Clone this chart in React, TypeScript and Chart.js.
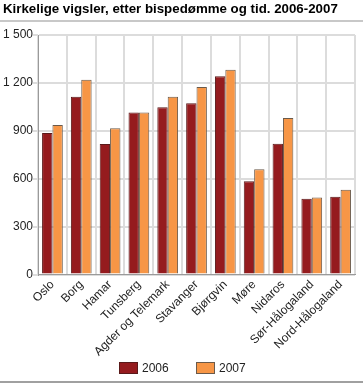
import React, { useEffect, useRef } from "react";
import { Chart, registerables } from "chart.js";

Chart.register(...registerables);

const title = "Kirkelige vigsler, etter bispedømme og tid. 2006-2007";
const categories = [
  "Oslo",
  "Borg",
  "Hamar",
  "Tunsberg",
  "Agder og Telemark",
  "Stavanger",
  "Bjørgvin",
  "Møre",
  "Nidaros",
  "Sør-Hålogaland",
  "Nord-Hålogaland",
];
const seriesLabels = ["2006", "2007"];
const values2006 = [886, 1113, 817, 1015, 1048, 1073, 1241, 584, 819, 475, 487];
const values2007 = [937, 1220, 916, 1015, 1113, 1174, 1283, 660, 981, 483, 531];
const yMax = 1500;
const yStep = 300;

const FONT = "'Liberation Sans', Arial, sans-serif";
const colors = ["#951b1e", "#f79646"];
const borders = ["#5a1a1a", "#6b5a4a"];

const formatNum = (v: number) =>
  String(v).replace(/\B(?=(\d{3})+(?!\d))/g, " ");

const decor = {
  id: "decor",
  afterDraw(chart: any) {
    const ctx = chart.ctx;
    ctx.save();
    ctx.fillStyle = "#000";
    ctx.font = `bold 13.3px ${FONT}`;
    ctx.textBaseline = "alphabetic";
    ctx.textAlign = "left";
    ctx.fillText(title, 3, 13);
    ctx.fillStyle = "#c8c8c8";
    ctx.fillRect(0, 20, chart.width, 2);
    ctx.fillStyle = "#a0a0a0";
    ctx.fillRect(0, 381, chart.width, 2);
    // legend
    const xs = [119, 196];
    chart.data.datasets.forEach((ds: any, i: number) => {
      const x = xs[i];
      ctx.fillStyle = ds.backgroundColor;
      ctx.fillRect(x, 362, 19, 12);
      ctx.strokeStyle = ds.borderColor;
      ctx.lineWidth = 1;
      ctx.strokeRect(x + 0.5, 362.5, 18, 11);
      ctx.fillStyle = "#222";
      ctx.font = `12px ${FONT}`;
      ctx.textBaseline = "middle";
      ctx.fillText(ds.label, x + 23, 368.5);
    });
    ctx.restore();
  },
};

export default function App() {
  const ref = useRef<HTMLCanvasElement | null>(null);
  useEffect(() => {
    document.body.style.margin = "0";
    const chart = new Chart(ref.current!, {
      type: "bar",
      data: {
        labels: categories,
        datasets: [
          {
            label: seriesLabels[0],
            data: values2006,
            backgroundColor: colors[0],
            borderColor: borders[0],
            borderWidth: 1,
            categoryPercentage: 0.72,
            barPercentage: 1,
          },
          {
            label: seriesLabels[1],
            data: values2007,
            backgroundColor: colors[1],
            borderColor: borders[1],
            borderWidth: 1,
            categoryPercentage: 0.72,
            barPercentage: 1,
          },
        ],
      },
      options: {
        animation: false,
        responsive: false,
        maintainAspectRatio: false,
        layout: { padding: { left: 3, right: 8, top: 35, bottom: 22 } },
        plugins: {
          legend: { display: false },
          title: { display: false },
          tooltip: { enabled: false },
        },
        scales: {
          x: {
            grid: {
              offset: true,
              color: "#dcdcdc",
              lineWidth: 2,
              drawTicks: false,
            },
            border: { color: "#9a9a9a", width: 1 },
            ticks: {
              color: "#222",
              font: { family: FONT, size: 12 },
              maxRotation: 45,
              minRotation: 45,
              padding: 3,
              autoSkip: false,
            },
          },
          y: {
            min: 0,
            max: yMax,
            grid: { color: "#dcdcdc", lineWidth: 2, drawTicks: true, tickLength: 5 },
            border: { color: "#9a9a9a", width: 1 },
            ticks: {
              stepSize: yStep,
              color: "#222",
              font: { family: FONT, size: 12 },
              padding: 0,
              callback: (v: any) => formatNum(Number(v)),
            },
          },
        },
      },
      plugins: [decor],
    });
    return () => chart.destroy();
  }, []);
  return (
    <div style={{ position: "absolute", left: 0, top: 0, width: 363, height: 384 }}>
      <canvas ref={ref} width={363} height={384} style={{ display: "block", width: 363, height: 384 }} />
    </div>
  );
}
